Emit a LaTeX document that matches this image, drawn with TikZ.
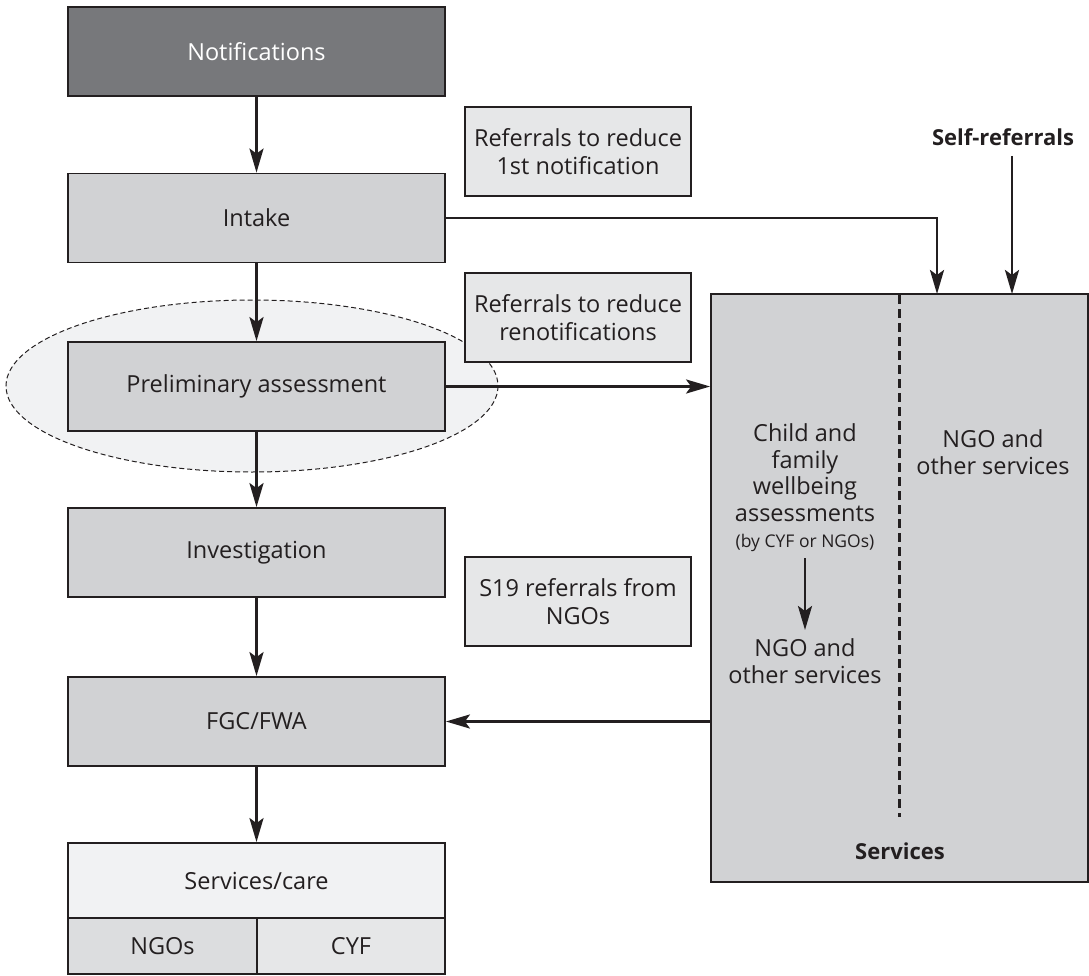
\documentclass[tikz,border=0pt]{standalone}
\usepackage{fontspec}
\setmainfont{Open Sans}
\usetikzlibrary{arrows.meta}
\definecolor{darkbox}{HTML}{77787B}
\definecolor{midbox}{HTML}{D1D2D4}
\definecolor{lightbox}{HTML}{E6E7E8}
\definecolor{paleb}{HTML}{F1F2F3}
\definecolor{ngobox}{HTML}{DCDDDF}
\definecolor{ink}{HTML}{231F20}
\tikzset{
  box/.style={draw=ink, line width=1.8pt, rectangle, inner sep=0pt, align=center,
    font=\fontsize{23.5}{27.5}\selectfont, text=ink},
  mainbox/.style={box, fill=midbox, minimum width=377pt, minimum height=89pt},
  refbox/.style={box, fill=lightbox, minimum width=226pt, minimum height=89pt},
  arr/.style={draw=ink, line width=2.8pt, -{Stealth[length=24pt,width=14pt,inset=5pt]}},
  lbl/.style={align=center, font=\fontsize{23.5}{26.5}\selectfont, text=ink, inner sep=0pt},
  boldlbl/.style={lbl, font=\fontsize{22}{26}\selectfont\bfseries},
}
\begin{document}
\begin{tikzpicture}[x=1pt,y=-1pt]
\useasboundingbox (0,0) rectangle (1089,976);
% ellipse highlight
\draw[draw=ink, line width=1pt, fill=paleb, dash pattern=on 5pt off 3pt]
  (252,386) ellipse [x radius=246, y radius=86];
% main column
\node[mainbox, fill=darkbox, text=white] (notif) at (256.5,51.5) {Notifications};
\node[mainbox] (intake) at (256.5,218) {Intake};
\node[mainbox] (prelim) at (256.5,386.5) {Preliminary assessment};
\node[mainbox] (invest) at (256.5,552.5) {Investigation};
\node[mainbox] (fgc) at (256.5,721.5) {FGC/FWA};
\node[box, fill=paleb, minimum width=377pt, minimum height=75pt] (care) at (256.5,880.5) {Services/care};
\node[box, fill=ngobox, minimum width=189pt, minimum height=56pt] (ngos) at (162.5,946) {NGOs};
\node[box, fill=lightbox, minimum width=188pt, minimum height=56pt] (cyf) at (351,946) {CYF};
% referral boxes
\node[refbox] (ref1) at (578,151.5) {Referrals to reduce\\1st notification};
\node[refbox] (ref2) at (578,317.5) {Referrals to reduce\\renotifications};
\node[refbox] (s19) at (578,601.5) {S19 referrals from\\NGOs};
% services box
\node[box, fill=midbox, minimum width=377pt, minimum height=588pt] (serv) at (899.5,588) {};
\draw[ink, line width=3pt, dash pattern=on 9pt off 5pt] (899,295) -- (899,817);
\node[lbl] (cfw) at (805,488) {Child and\\family\\wellbeing\\assessments\\{\fontsize{17.5}{24}\selectfont(by CYF or NGOs)}};
\node[lbl] (ngoL) at (805,661) {NGO and\\other services};
\node[lbl] (ngoR) at (993,452) {NGO and\\other services};
\node[boldlbl] (servlbl) at (900,851) {Services};
\node[boldlbl] (self) at (1003,137) {Self-referrals};
\coordinate (inA) at (805,558);
\coordinate (inB) at (805,630);
% arrows
\draw[arr] (notif.south) -- (intake.north);
\draw[arr] (intake.south) -- (prelim.north);
\draw[arr] (prelim.south) -- (invest.north);
\draw[arr] (invest.south) -- (fgc.north);
\draw[arr] (fgc.south) -- (care.north);
\draw[arr] (intake.east) -- (937,218) -- (937,294);
\draw[arr] (1012,156) -- (1012,294);
\draw[arr] (prelim.east) -- (serv.west |- prelim.east);
\draw[arr] (serv.west |- fgc.east) -- (fgc.east);
\draw[arr] (inA) -- (inB);
\end{tikzpicture}
\end{document}
